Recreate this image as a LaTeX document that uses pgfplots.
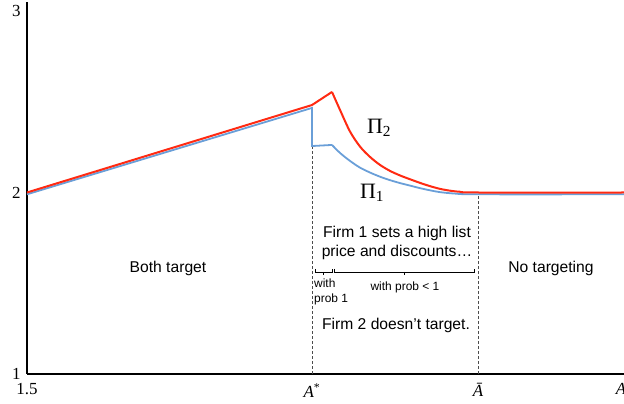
\documentclass[border=0pt]{standalone}
\usepackage{fontspec}
\setmainfont{Liberation Serif}
\newfontfamily\arial{Liberation Sans}
\usepackage{pgfplots}
\pgfplotsset{compat=1.18}
\definecolor{redc}{RGB}{255,42,18}
\definecolor{bluec}{RGB}{106,159,216}
\begin{document}
\begin{tikzpicture}
\begin{axis}[
  scale only axis, width=597bp, height=372bp,
  xmin=27, xmax=624, ymin=1, ymax=3.0496,
  axis x line=bottom, axis y line=left,
  axis line style={-, line width=1.8bp},
  xtick={27,312,478,621},
  xticklabels={1.5, \textit{A}\textsuperscript{*}, \textit{\=A}, \textit{A}},
  ytick={1,2,3}, major tick length=0pt,
  tick label style={font=\fontsize{17}{17}\selectfont},
  xticklabel style={yshift=-6bp},
  yticklabel style={xshift=-3bp},
  /pgf/number format/assume math mode=true,
  clip=false,
]
\addplot[gray!60!black, dash pattern=on 3bp off 2bp, line width=0.8bp] coordinates {(312,1) (312,2.256)};
\addplot[gray!60!black, dash pattern=on 3bp off 2bp, line width=0.8bp] coordinates {(478,1) (478,1.99)};
\addplot[bluec, line width=1.8bp] coordinates {
(27,1.99) (312,2.466) (312,2.256) (332,2.262)};
\addplot[bluec, line width=1.8bp, smooth, tension=0.5] coordinates {
(332,2.262) (340,2.218) (350,2.174) (360,2.137)
(370,2.110) (380,2.087) (390,2.068) (400,2.052) (410,2.038) (420,2.024) (430,2.012)
(440,2.002) (455,1.994) (478,1.99) (624,1.99)};
\addplot[redc, line width=2bp] coordinates {
(27,2.0) (312,2.482) (332,2.554)};
\addplot[redc, line width=2bp, smooth, tension=0.5] coordinates {
(332,2.554) (340,2.455) (350,2.336) (360,2.253) (370,2.196)
(380,2.152) (390,2.119) (400,2.094) (410,2.073) (420,2.053) (430,2.035) (440,2.02)
(450,2.01) (460,2.004) (478,2.0) (624,2.0)};
\draw[line width=1.2bp] (axis cs:27,3) ++(-5bp,0) -- ++(10bp,0);
\node[font=\fontsize{22}{22}\selectfont] at (axis cs:379,2.355) {Π\textsubscript{2}};
\node[font=\fontsize{22}{22}\selectfont] at (axis cs:372,2.0) {Π\textsubscript{1}};
\node[font=\arial\fontsize{15.7}{19}\selectfont] at (axis cs:168,1.584) {Both target};
\node[font=\arial\fontsize{15.7}{19}\selectfont] at (axis cs:551,1.584) {No targeting};
\node[font=\arial\fontsize{15.7}{20}\selectfont, align=center] at (axis cs:397,1.722) {Firm 1 sets a high list\\price and discounts…};
\node[font=\arial\fontsize{15.7}{20}\selectfont] at (axis cs:396,1.270) {Firm 2 doesn’t target.};
\draw[line width=0.7bp] (axis cs:315,1.579) -- (axis cs:315,1.562) -- (axis cs:332,1.562) -- (axis cs:332,1.579);
\draw[line width=0.7bp] (axis cs:323.5,1.562) -- (axis cs:323.5,1.545);
\draw[line width=0.7bp] (axis cs:334,1.579) -- (axis cs:334,1.562) -- (axis cs:474,1.562) -- (axis cs:474,1.579);
\draw[line width=0.7bp] (axis cs:404,1.562) -- (axis cs:404,1.545);
\node[font=\arial\fontsize{12}{15}\selectfont, align=left, anchor=north west, inner sep=0pt] at (axis cs:314,1.525) {with\\prob 1};
\node[font=\arial\fontsize{12}{15}\selectfont] at (axis cs:405,1.479) {with prob < 1};
\coordinate (bbll) at (axis cs:0,0.8347);
\coordinate (bbur) at (axis cs:624,3.0606);
\end{axis}
\pgfresetboundingbox
\path[use as bounding box] (bbll) rectangle (bbur);
\end{tikzpicture}
\end{document}
